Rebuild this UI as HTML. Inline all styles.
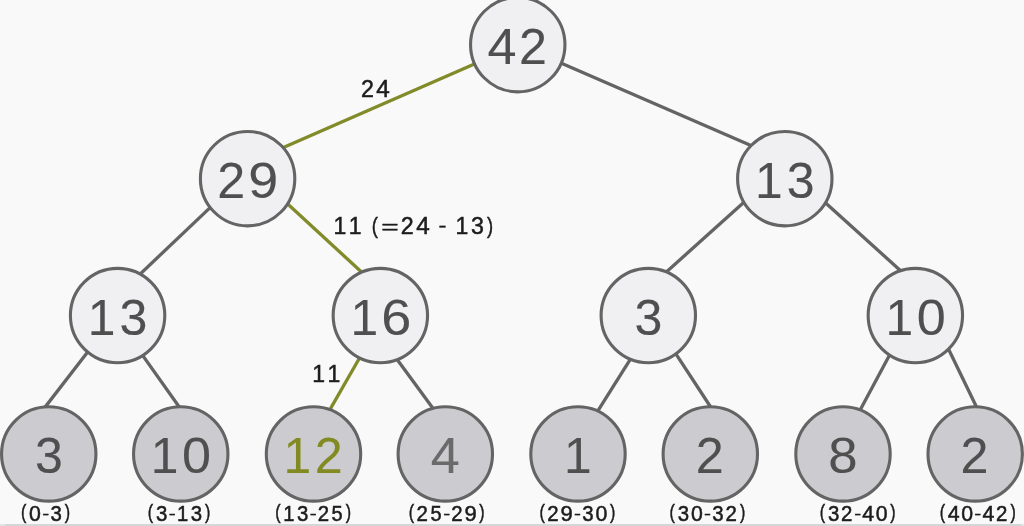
<!DOCTYPE html>
<html><head><meta charset="utf-8"><style>
html,body{margin:0;padding:0;background:#f9f9fa;overflow:hidden;}
svg{display:block;filter:blur(0.45px);}
text{font-family:"Liberation Sans",sans-serif;}
</style></head><body>
<svg width="1024" height="526" viewBox="0 0 1024 526">
<rect x="0" y="0" width="1024" height="526" fill="#f9f9fa"/>
<rect x="0" y="524" width="1024" height="2" fill="#e2e2e4"/>
<rect x="5" y="524" width="1016" height="2" fill="#d6d6d8"/>
<line x1="480.14" y1="61.46" x2="277.68" y2="150.04" stroke="#828b2a" stroke-width="3.3"/>
<line x1="555.69" y1="60.71" x2="756.69" y2="147.90" stroke="#646464" stroke-width="3.3"/>
<line x1="214.58" y1="203.35" x2="135.78" y2="278.21" stroke="#646464" stroke-width="3.3"/>
<line x1="283.11" y1="199.77" x2="366.10" y2="276.26" stroke="#828b2a" stroke-width="3.3"/>
<line x1="748.39" y1="198.24" x2="661.91" y2="275.96" stroke="#646464" stroke-width="3.3"/>
<line x1="820.96" y1="198.69" x2="905.03" y2="274.75" stroke="#646464" stroke-width="3.3"/>
<line x1="91.34" y1="347.30" x2="41.60" y2="411.62" stroke="#646464" stroke-width="3.3"/>
<line x1="139.27" y1="350.61" x2="182.64" y2="411.67" stroke="#646464" stroke-width="3.3"/>
<line x1="362.54" y1="352.72" x2="326.89" y2="414.89" stroke="#828b2a" stroke-width="3.3"/>
<line x1="393.67" y1="354.80" x2="436.57" y2="413.21" stroke="#646464" stroke-width="3.3"/>
<line x1="633.58" y1="354.14" x2="594.55" y2="416.16" stroke="#646464" stroke-width="3.3"/>
<line x1="672.62" y1="348.81" x2="713.76" y2="411.77" stroke="#646464" stroke-width="3.3"/>
<line x1="892.41" y1="349.80" x2="857.35" y2="415.28" stroke="#646464" stroke-width="3.3"/>
<line x1="945.94" y1="343.69" x2="979.07" y2="412.17" stroke="#646464" stroke-width="3.3"/>
<circle cx="517.75" cy="44.65" r="47.2" fill="#f0eff2" stroke="#646464" stroke-width="3.1"/><text transform="matrix(1.1028 0 0 1.0565 487.43 63.60)" font-size="47.3" fill="#4f4f4f" stroke="#4f4f4f" stroke-width="0.1">4</text><text transform="matrix(1.0622 0 0 1.0599 518.91 63.60)" font-size="47.3" fill="#4f4f4f" stroke="#4f4f4f" stroke-width="0.1">2</text>
<circle cx="247.6" cy="178.65" r="47.2" fill="#f0eff2" stroke="#646464" stroke-width="3.1"/><text transform="matrix(1.0622 0 0 1.0599 217.16 197.60)" font-size="47.3" fill="#4f4f4f" stroke="#4f4f4f" stroke-width="0.1">2</text><text transform="matrix(1.1387 0 0 1.0653 248.25 197.78)" font-size="47.3" fill="#4f4f4f" stroke="#4f4f4f" stroke-width="0.1">9</text>
<circle cx="784.8" cy="178.65" r="47.2" fill="#f0eff2" stroke="#646464" stroke-width="3.1"/><text transform="matrix(1.0522 0 0 1.0565 754.92 197.60)" font-size="47.3" fill="#4f4f4f" stroke="#4f4f4f" stroke-width="0.1">1</text><text transform="matrix(1.0585 0 0 1.0653 786.73 197.78)" font-size="47.3" fill="#4f4f4f" stroke="#4f4f4f" stroke-width="0.1">3</text>
<circle cx="117.6" cy="315.55" r="47.2" fill="#f0eff2" stroke="#646464" stroke-width="3.1"/><text transform="matrix(1.0522 0 0 1.0565 87.72 334.50)" font-size="47.3" fill="#4f4f4f" stroke="#4f4f4f" stroke-width="0.1">1</text><text transform="matrix(1.0585 0 0 1.0653 119.53 334.68)" font-size="47.3" fill="#4f4f4f" stroke="#4f4f4f" stroke-width="0.1">3</text>
<circle cx="380.35" cy="315.55" r="47.2" fill="#f0eff2" stroke="#646464" stroke-width="3.1"/><text transform="matrix(1.0522 0 0 1.0565 350.47 334.50)" font-size="47.3" fill="#4f4f4f" stroke="#4f4f4f" stroke-width="0.1">1</text><text transform="matrix(1.1410 0 0 1.0653 381.13 334.68)" font-size="47.3" fill="#4f4f4f" stroke="#4f4f4f" stroke-width="0.1">6</text>
<circle cx="648.3" cy="315.55" r="47.2" fill="#f0eff2" stroke="#646464" stroke-width="3.1"/><text transform="matrix(1.0585 0 0 1.0653 634.43 334.68)" font-size="47.3" fill="#4f4f4f" stroke="#4f4f4f" stroke-width="0.1">3</text>
<circle cx="915.35" cy="315.55" r="47.2" fill="#f0eff2" stroke="#646464" stroke-width="3.1"/><text transform="matrix(1.0522 0 0 1.0565 885.47 334.50)" font-size="47.3" fill="#4f4f4f" stroke="#4f4f4f" stroke-width="0.1">1</text><text transform="matrix(1.1024 0 0 1.0653 916.64 334.68)" font-size="47.3" fill="#4f4f4f" stroke="#4f4f4f" stroke-width="0.1">0</text>
<circle cx="48.75" cy="453.95" r="47.2" fill="#cccbcf" stroke="#646464" stroke-width="3.1"/><text transform="matrix(1.0585 0 0 1.0653 34.88 473.08)" font-size="47.3" fill="#4f4f4f" stroke="#4f4f4f" stroke-width="0.1">3</text>
<circle cx="180.75" cy="453.95" r="47.2" fill="#cccbcf" stroke="#646464" stroke-width="3.1"/><text transform="matrix(1.0522 0 0 1.0565 150.87 472.90)" font-size="47.3" fill="#4f4f4f" stroke="#4f4f4f" stroke-width="0.1">1</text><text transform="matrix(1.1024 0 0 1.0653 182.04 473.08)" font-size="47.3" fill="#4f4f4f" stroke="#4f4f4f" stroke-width="0.1">0</text>
<circle cx="313.5" cy="453.95" r="47.2" fill="#cccbcf" stroke="#646464" stroke-width="3.1"/><text transform="matrix(1.0522 0 0 1.0565 283.62 472.90)" font-size="47.3" fill="#828b22" stroke="#828b22" stroke-width="0.1">1</text><text transform="matrix(1.0622 0 0 1.0599 314.66 472.90)" font-size="47.3" fill="#828b22" stroke="#828b22" stroke-width="0.1">2</text>
<circle cx="445.3" cy="453.95" r="47.2" fill="#cccbcf" stroke="#646464" stroke-width="3.1"/><text transform="matrix(1.1028 0 0 1.0565 430.78 472.90)" font-size="47.3" fill="#6a6a6a" stroke="#6a6a6a" stroke-width="0.1">4</text>
<circle cx="578" cy="453.95" r="47.2" fill="#cccbcf" stroke="#646464" stroke-width="3.1"/><text transform="matrix(1.0522 0 0 1.0565 563.92 472.90)" font-size="47.3" fill="#4f4f4f" stroke="#4f4f4f" stroke-width="0.1">1</text>
<circle cx="710.3" cy="453.95" r="47.2" fill="#cccbcf" stroke="#646464" stroke-width="3.1"/><text transform="matrix(1.0622 0 0 1.0599 695.66 472.90)" font-size="47.3" fill="#4f4f4f" stroke="#4f4f4f" stroke-width="0.1">2</text>
<circle cx="843" cy="453.95" r="47.2" fill="#cccbcf" stroke="#646464" stroke-width="3.1"/><text transform="matrix(1.1143 0 0 1.0653 828.33 473.08)" font-size="47.3" fill="#4f4f4f" stroke="#4f4f4f" stroke-width="0.1">8</text>
<circle cx="975.2" cy="453.95" r="47.2" fill="#cccbcf" stroke="#646464" stroke-width="3.1"/><text transform="matrix(1.0622 0 0 1.0599 960.56 472.90)" font-size="47.3" fill="#4f4f4f" stroke="#4f4f4f" stroke-width="0.1">2</text>
<text transform="matrix(0.9995 0 0 1.0322 360.92 97.45)" font-size="23.3" fill="#1c1c1c" stroke="#1c1c1c" stroke-width="0.5">2</text><text transform="matrix(1.0433 0 0 1.0284 376.21 97.45)" font-size="23.3" fill="#1c1c1c" stroke="#1c1c1c" stroke-width="0.5">4</text>
<text transform="matrix(0.9872 0 0 1.0284 333.50 233.95)" font-size="23.3" fill="#1c1c1c" stroke="#1c1c1c" stroke-width="0.5">1</text><text transform="matrix(0.9872 0 0 1.0284 348.77 233.95)" font-size="23.3" fill="#1c1c1c" stroke="#1c1c1c" stroke-width="0.5">1</text><text transform="matrix(0.7897 0 0 0.9329 371.70 232.52)" font-size="23.3" fill="#1c1c1c" stroke="#1c1c1c" stroke-width="0.5">(</text><text transform="matrix(1.2829 0 0 0.8092 381.23 233.11)" font-size="23.3" fill="#1c1c1c" stroke="#1c1c1c" stroke-width="0.5">=</text><text transform="matrix(0.9995 0 0 1.0322 400.84 233.95)" font-size="23.3" fill="#1c1c1c" stroke="#1c1c1c" stroke-width="0.5">2</text><text transform="matrix(1.0433 0 0 1.0284 416.13 233.95)" font-size="23.3" fill="#1c1c1c" stroke="#1c1c1c" stroke-width="0.5">4</text><text transform="matrix(1.0224 0 0 0.7503 438.53 232.46)" font-size="23.3" fill="#1c1c1c" stroke="#1c1c1c" stroke-width="0.5">-</text><text transform="matrix(0.9872 0 0 1.0284 455.59 233.95)" font-size="23.3" fill="#1c1c1c" stroke="#1c1c1c" stroke-width="0.5">1</text><text transform="matrix(0.9975 0 0 1.0380 470.92 234.04)" font-size="23.3" fill="#1c1c1c" stroke="#1c1c1c" stroke-width="0.5">3</text><text transform="matrix(0.7897 0 0 0.9329 487.06 232.52)" font-size="23.3" fill="#1c1c1c" stroke="#1c1c1c" stroke-width="0.5">)</text>
<text transform="matrix(0.9872 0 0 1.0284 312.17 382.20)" font-size="23.3" fill="#1c1c1c" stroke="#1c1c1c" stroke-width="0.5">1</text><text transform="matrix(0.9872 0 0 1.0284 327.43 382.20)" font-size="23.3" fill="#1c1c1c" stroke="#1c1c1c" stroke-width="0.5">1</text>
<text transform="matrix(0.7564 0 0 0.9307 21.09 519.26)" font-size="21.2" fill="#1c1c1c" stroke="#1c1c1c" stroke-width="0.5">(</text><text transform="matrix(1.0048 0 0 1.0350 29.10 520.64)" font-size="21.2" fill="#1c1c1c" stroke="#1c1c1c" stroke-width="0.5">0</text><text transform="matrix(0.9814 0 0 0.7231 42.14 519.06)" font-size="21.2" fill="#1c1c1c" stroke="#1c1c1c" stroke-width="0.5">-</text><text transform="matrix(0.9626 0 0 1.0350 50.51 520.64)" font-size="21.2" fill="#1c1c1c" stroke="#1c1c1c" stroke-width="0.5">3</text><text transform="matrix(0.7564 0 0 0.9307 64.77 519.26)" font-size="21.2" fill="#1c1c1c" stroke="#1c1c1c" stroke-width="0.5">)</text>
<text transform="matrix(0.7564 0 0 0.9307 147.75 519.26)" font-size="21.2" fill="#1c1c1c" stroke="#1c1c1c" stroke-width="0.5">(</text><text transform="matrix(0.9626 0 0 1.0350 156.03 520.64)" font-size="21.2" fill="#1c1c1c" stroke="#1c1c1c" stroke-width="0.5">3</text><text transform="matrix(0.9814 0 0 0.7231 168.79 519.06)" font-size="21.2" fill="#1c1c1c" stroke="#1c1c1c" stroke-width="0.5">-</text><text transform="matrix(0.9521 0 0 1.0253 177.12 520.55)" font-size="21.2" fill="#1c1c1c" stroke="#1c1c1c" stroke-width="0.5">1</text><text transform="matrix(0.9626 0 0 1.0350 190.66 520.64)" font-size="21.2" fill="#1c1c1c" stroke="#1c1c1c" stroke-width="0.5">3</text><text transform="matrix(0.7564 0 0 0.9307 204.91 519.26)" font-size="21.2" fill="#1c1c1c" stroke="#1c1c1c" stroke-width="0.5">)</text>
<text transform="matrix(0.7564 0 0 0.9307 275.13 519.26)" font-size="21.2" fill="#1c1c1c" stroke="#1c1c1c" stroke-width="0.5">(</text><text transform="matrix(0.9521 0 0 1.0253 283.37 520.55)" font-size="21.2" fill="#1c1c1c" stroke="#1c1c1c" stroke-width="0.5">1</text><text transform="matrix(0.9626 0 0 1.0350 296.90 520.64)" font-size="21.2" fill="#1c1c1c" stroke="#1c1c1c" stroke-width="0.5">3</text><text transform="matrix(0.9814 0 0 0.7231 309.66 519.06)" font-size="21.2" fill="#1c1c1c" stroke="#1c1c1c" stroke-width="0.5">-</text><text transform="matrix(0.9643 0 0 1.0292 317.72 520.55)" font-size="21.2" fill="#1c1c1c" stroke="#1c1c1c" stroke-width="0.5">2</text><text transform="matrix(0.9451 0 0 1.0313 331.52 520.64)" font-size="21.2" fill="#1c1c1c" stroke="#1c1c1c" stroke-width="0.5">5</text><text transform="matrix(0.7564 0 0 0.9307 345.78 519.26)" font-size="21.2" fill="#1c1c1c" stroke="#1c1c1c" stroke-width="0.5">)</text>
<text transform="matrix(0.7564 0 0 0.9307 408.63 519.26)" font-size="21.2" fill="#1c1c1c" stroke="#1c1c1c" stroke-width="0.5">(</text><text transform="matrix(0.9643 0 0 1.0292 416.60 520.55)" font-size="21.2" fill="#1c1c1c" stroke="#1c1c1c" stroke-width="0.5">2</text><text transform="matrix(0.9451 0 0 1.0313 430.40 520.64)" font-size="21.2" fill="#1c1c1c" stroke="#1c1c1c" stroke-width="0.5">5</text><text transform="matrix(0.9814 0 0 0.7231 443.16 519.06)" font-size="21.2" fill="#1c1c1c" stroke="#1c1c1c" stroke-width="0.5">-</text><text transform="matrix(0.9643 0 0 1.0292 451.22 520.55)" font-size="21.2" fill="#1c1c1c" stroke="#1c1c1c" stroke-width="0.5">2</text><text transform="matrix(1.0377 0 0 1.0350 464.49 520.64)" font-size="21.2" fill="#1c1c1c" stroke="#1c1c1c" stroke-width="0.5">9</text><text transform="matrix(0.7564 0 0 0.9307 479.28 519.26)" font-size="21.2" fill="#1c1c1c" stroke="#1c1c1c" stroke-width="0.5">)</text>
<text transform="matrix(0.7564 0 0 0.9307 539.38 519.26)" font-size="21.2" fill="#1c1c1c" stroke="#1c1c1c" stroke-width="0.5">(</text><text transform="matrix(0.9643 0 0 1.0292 547.35 520.55)" font-size="21.2" fill="#1c1c1c" stroke="#1c1c1c" stroke-width="0.5">2</text><text transform="matrix(1.0377 0 0 1.0350 560.62 520.64)" font-size="21.2" fill="#1c1c1c" stroke="#1c1c1c" stroke-width="0.5">9</text><text transform="matrix(0.9814 0 0 0.7231 573.91 519.06)" font-size="21.2" fill="#1c1c1c" stroke="#1c1c1c" stroke-width="0.5">-</text><text transform="matrix(0.9626 0 0 1.0350 582.29 520.64)" font-size="21.2" fill="#1c1c1c" stroke="#1c1c1c" stroke-width="0.5">3</text><text transform="matrix(1.0048 0 0 1.0350 595.50 520.64)" font-size="21.2" fill="#1c1c1c" stroke="#1c1c1c" stroke-width="0.5">0</text><text transform="matrix(0.7564 0 0 0.9307 610.03 519.26)" font-size="21.2" fill="#1c1c1c" stroke="#1c1c1c" stroke-width="0.5">)</text>
<text transform="matrix(0.7564 0 0 0.9307 669.38 519.26)" font-size="21.2" fill="#1c1c1c" stroke="#1c1c1c" stroke-width="0.5">(</text><text transform="matrix(0.9626 0 0 1.0350 677.66 520.64)" font-size="21.2" fill="#1c1c1c" stroke="#1c1c1c" stroke-width="0.5">3</text><text transform="matrix(1.0048 0 0 1.0350 690.88 520.64)" font-size="21.2" fill="#1c1c1c" stroke="#1c1c1c" stroke-width="0.5">0</text><text transform="matrix(0.9814 0 0 0.7231 703.91 519.06)" font-size="21.2" fill="#1c1c1c" stroke="#1c1c1c" stroke-width="0.5">-</text><text transform="matrix(0.9626 0 0 1.0350 712.29 520.64)" font-size="21.2" fill="#1c1c1c" stroke="#1c1c1c" stroke-width="0.5">3</text><text transform="matrix(0.9643 0 0 1.0292 725.46 520.55)" font-size="21.2" fill="#1c1c1c" stroke="#1c1c1c" stroke-width="0.5">2</text><text transform="matrix(0.7564 0 0 0.9307 740.03 519.26)" font-size="21.2" fill="#1c1c1c" stroke="#1c1c1c" stroke-width="0.5">)</text>
<text transform="matrix(0.7564 0 0 0.9307 819.63 519.26)" font-size="21.2" fill="#1c1c1c" stroke="#1c1c1c" stroke-width="0.5">(</text><text transform="matrix(0.9626 0 0 1.0350 827.91 520.64)" font-size="21.2" fill="#1c1c1c" stroke="#1c1c1c" stroke-width="0.5">3</text><text transform="matrix(0.9643 0 0 1.0292 841.09 520.55)" font-size="21.2" fill="#1c1c1c" stroke="#1c1c1c" stroke-width="0.5">2</text><text transform="matrix(0.9814 0 0 0.7231 854.16 519.06)" font-size="21.2" fill="#1c1c1c" stroke="#1c1c1c" stroke-width="0.5">-</text><text transform="matrix(1.0075 0 0 1.0253 862.24 520.55)" font-size="21.2" fill="#1c1c1c" stroke="#1c1c1c" stroke-width="0.5">4</text><text transform="matrix(1.0048 0 0 1.0350 875.75 520.64)" font-size="21.2" fill="#1c1c1c" stroke="#1c1c1c" stroke-width="0.5">0</text><text transform="matrix(0.7564 0 0 0.9307 890.28 519.26)" font-size="21.2" fill="#1c1c1c" stroke="#1c1c1c" stroke-width="0.5">)</text>
<text transform="matrix(0.7564 0 0 0.9307 939.81 519.26)" font-size="21.2" fill="#1c1c1c" stroke="#1c1c1c" stroke-width="0.5">(</text><text transform="matrix(1.0075 0 0 1.0253 947.79 520.55)" font-size="21.2" fill="#1c1c1c" stroke="#1c1c1c" stroke-width="0.5">4</text><text transform="matrix(1.0048 0 0 1.0350 961.30 520.64)" font-size="21.2" fill="#1c1c1c" stroke="#1c1c1c" stroke-width="0.5">0</text><text transform="matrix(0.9814 0 0 0.7231 974.34 519.06)" font-size="21.2" fill="#1c1c1c" stroke="#1c1c1c" stroke-width="0.5">-</text><text transform="matrix(1.0075 0 0 1.0253 982.42 520.55)" font-size="21.2" fill="#1c1c1c" stroke="#1c1c1c" stroke-width="0.5">4</text><text transform="matrix(0.9643 0 0 1.0292 995.89 520.55)" font-size="21.2" fill="#1c1c1c" stroke="#1c1c1c" stroke-width="0.5">2</text><text transform="matrix(0.7564 0 0 0.9307 1010.45 519.26)" font-size="21.2" fill="#1c1c1c" stroke="#1c1c1c" stroke-width="0.5">)</text>
</svg>
</body></html>
